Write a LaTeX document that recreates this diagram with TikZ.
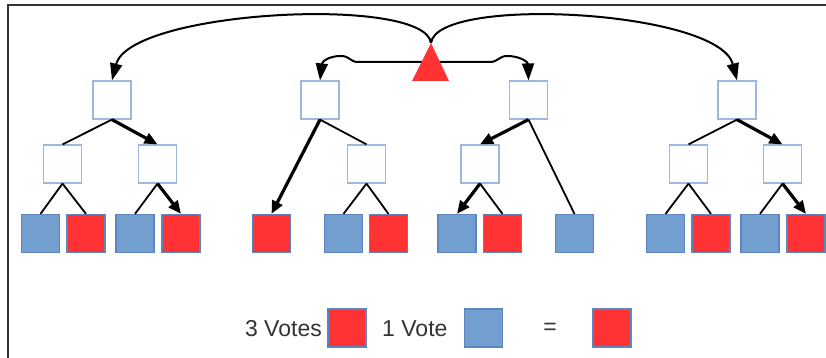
\documentclass[tikz,border=0pt]{standalone}
\usepackage{fontspec}
\setmainfont{Liberation Sans}
\usetikzlibrary{arrows.meta}
\definecolor{vred}{HTML}{FF3333}
\definecolor{vblue}{HTML}{729FCF}
\definecolor{vedge}{HTML}{5B86BE}
\definecolor{wedge}{HTML}{9DB8DC}
\definecolor{framec}{HTML}{333333}
\begin{document}
\begin{tikzpicture}[x=1pt,y=-1pt,
 box/.style={minimum width=38pt,minimum height=38pt,inner sep=0pt,line width=1.2pt},
 wbox/.style={box,draw=wedge,fill=white},
 rbox/.style={box,draw=vedge,fill=vred},
 bbox/.style={box,draw=vedge,fill=vblue},
 thinline/.style={line width=1.8pt},
 win/.style={line width=3.2pt,-{Triangle[length=13pt,width=11pt]}},
 curvy/.style={line width=2pt,-{Triangle[length=17pt,width=12pt]}},
 lbl/.style={font=\fontsize{23}{25}\selectfont, text=framec, inner sep=0pt}]
\useasboundingbox (0,0) rectangle (826,358);
\draw[framec, line width=2pt] (8,358) -- (8,5) -- (826,5);
% top level
\node[wbox] (t1) at (112,100) {};
\node[wbox] (t2) at (320,100) {};
\node[wbox] (t3) at (528.5,100) {};
\node[wbox] (t4) at (737,100) {};
% middle level
\node[wbox] (m1) at (62.5,164) {};
\node[wbox] (m2) at (157.5,164) {};
\node[wbox] (m3) at (366.5,164) {};
\node[wbox] (m4) at (480,164) {};
\node[wbox] (m5) at (688.5,164) {};
\node[wbox] (m6) at (782.5,164) {};
% leaves
\node[bbox] (l1) at (40.5,233.5) {};
\node[rbox] (l2) at (86,233.5) {};
\node[bbox] (l3) at (135,233.5) {};
\node[rbox] (l4) at (181,233.5) {};
\node[rbox] (l5) at (271.5,233.5) {};
\node[bbox] (l6) at (343.5,233.5) {};
\node[rbox] (l7) at (388.5,233.5) {};
\node[bbox] (l8) at (457,233.5) {};
\node[rbox] (l9) at (502.5,233.5) {};
\node[bbox] (l10) at (574.5,233.5) {};
\node[bbox] (l11) at (665.5,233.5) {};
\node[rbox] (l12) at (711,233.5) {};
\node[bbox] (l13) at (760,233.5) {};
\node[rbox] (l14) at (806,233.5) {};
% tree edges
\draw[thinline] (t1.south) -- (m1.north);
\draw[win] (t1.south) -- (m2.north);
\draw[thinline] (m1.south) -- (l1.north);
\draw[thinline] (m1.south) -- (l2.north);
\draw[thinline] (m2.south) -- (l3.north);
\draw[win] (m2.south) -- (l4.north);
\draw[win] (t2.south) -- (l5.north);
\draw[thinline] (t2.south) -- (m3.north);
\draw[thinline] (m3.south) -- (l6.north);
\draw[thinline] (m3.south) -- (l7.north);
\draw[win] (t3.south) -- (m4.north);
\draw[thinline] (t3.south) -- (l10.north);
\draw[win] (m4.south) -- (l8.north);
\draw[thinline] (m4.south) -- (l9.north);
\draw[thinline] (t4.south) -- (m5.north);
\draw[win] (t4.south) -- (m6.north);
\draw[thinline] (m5.south) -- (l11.north);
\draw[thinline] (m5.south) -- (l12.north);
\draw[thinline] (m6.south) -- (l13.north);
\draw[win] (m6.south) -- (l14.north);
% root connectors
\coordinate (apex) at (431,43);
\coordinate (hub) at (431,62);
\draw[curvy] (apex) .. controls (425,-5) and (130,10) .. (t1.north);
\draw[curvy] (apex) .. controls (437,-5) and (719,10) .. (t4.north);
\draw[curvy] (hub) -- (358,62) .. controls (350,62) and (350,56) .. (341,56) .. controls (328,56) and (322,62) .. (t2.north);
\draw[curvy] (hub) -- (490,62) .. controls (498,62) and (499,56) .. (507,56) .. controls (520,56) and (528,62) .. (t3.north);
\fill[vred] (412,81) -- (apex) -- (449,81) -- cycle;
% legend
\node[lbl, anchor=east] (v3) at (322,329) {3 Votes};
\node[rbox] (lr1) at (347,328) {};
\node[lbl, anchor=west] (v1) at (382,329) {1 Vote};
\node[bbox] (lb1) at (483.5,328) {};
\node[lbl] (eq) at (550,329) {=};
\node[rbox] (lr2) at (612,328) {};
\end{tikzpicture}
\end{document}
